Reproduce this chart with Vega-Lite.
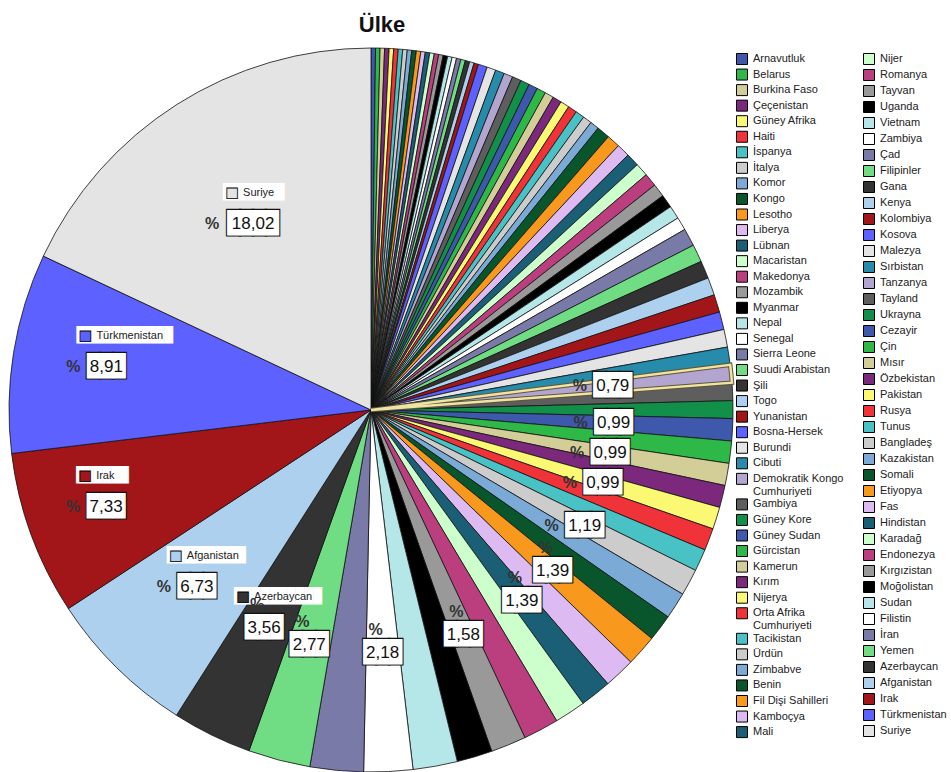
{
  "$schema": "https://vega.github.io/schema/vega-lite/v6.json",
  "width": 724,
  "height": 724,
  "autosize": {"type": "none"},
  "padding": {"left": 9, "top": 48, "right": 218, "bottom": 0},
  "background": "white",
  "title": {"text": "Ülke", "anchor": "middle", "dx": 11, "dy": 24, "offset": 16, "baseline": "alphabetic", "font": "Liberation Sans", "fontSize": 22, "fontWeight": "bold", "color": "#111"},
  "data": {"values": [
    {"ulke": "Arnavutluk", "yuzde": 0.2}, {"ulke": "Belarus", "yuzde": 0.2}, {"ulke": "Burkina Faso", "yuzde": 0.2}, {"ulke": "Çeçenistan", "yuzde": 0.2},
    {"ulke": "Güney Afrika", "yuzde": 0.2}, {"ulke": "Haiti", "yuzde": 0.2}, {"ulke": "İspanya", "yuzde": 0.2}, {"ulke": "İtalya", "yuzde": 0.2},
    {"ulke": "Komor", "yuzde": 0.2}, {"ulke": "Kongo", "yuzde": 0.2}, {"ulke": "Lesotho", "yuzde": 0.2}, {"ulke": "Liberya", "yuzde": 0.2},
    {"ulke": "Lübnan", "yuzde": 0.2}, {"ulke": "Macaristan", "yuzde": 0.2}, {"ulke": "Makedonya", "yuzde": 0.2}, {"ulke": "Mozambik", "yuzde": 0.2},
    {"ulke": "Myanmar", "yuzde": 0.2}, {"ulke": "Nepal", "yuzde": 0.2}, {"ulke": "Senegal", "yuzde": 0.2}, {"ulke": "Sierra Leone", "yuzde": 0.2},
    {"ulke": "Suudi Arabistan", "yuzde": 0.2}, {"ulke": "Şili", "yuzde": 0.2}, {"ulke": "Togo", "yuzde": 0.2}, {"ulke": "Yunanistan", "yuzde": 0.2},
    {"ulke": "Bosna-Hersek", "yuzde": 0.4}, {"ulke": "Burundi", "yuzde": 0.4}, {"ulke": "Cibuti", "yuzde": 0.4}, {"ulke": "Demokratik Kongo Cumhuriyeti", "yuzde": 0.4},
    {"ulke": "Gambiya", "yuzde": 0.4}, {"ulke": "Güney Kore", "yuzde": 0.4}, {"ulke": "Güney Sudan", "yuzde": 0.4}, {"ulke": "Gürcistan", "yuzde": 0.4},
    {"ulke": "Kamerun", "yuzde": 0.4}, {"ulke": "Kırım", "yuzde": 0.4}, {"ulke": "Nijerya", "yuzde": 0.4}, {"ulke": "Orta Afrika Cumhuriyeti", "yuzde": 0.4},
    {"ulke": "Tacikistan", "yuzde": 0.4}, {"ulke": "Ürdün", "yuzde": 0.4}, {"ulke": "Zimbabve", "yuzde": 0.4},
    {"ulke": "Benin", "yuzde": 0.59}, {"ulke": "Fil Dişi Sahilleri", "yuzde": 0.59}, {"ulke": "Kamboçya", "yuzde": 0.59}, {"ulke": "Mali", "yuzde": 0.59},
    {"ulke": "Nijer", "yuzde": 0.59}, {"ulke": "Romanya", "yuzde": 0.59}, {"ulke": "Tayvan", "yuzde": 0.59}, {"ulke": "Uganda", "yuzde": 0.59},
    {"ulke": "Vietnam", "yuzde": 0.59}, {"ulke": "Zambiya", "yuzde": 0.59},
    {"ulke": "Çad", "yuzde": 0.79}, {"ulke": "Filipinler", "yuzde": 0.79}, {"ulke": "Gana", "yuzde": 0.79}, {"ulke": "Kenya", "yuzde": 0.79},
    {"ulke": "Kolombiya", "yuzde": 0.79}, {"ulke": "Kosova", "yuzde": 0.79}, {"ulke": "Malezya", "yuzde": 0.79}, {"ulke": "Sırbistan", "yuzde": 0.79},
    {"ulke": "Tanzanya", "yuzde": 0.79}, {"ulke": "Tayland", "yuzde": 0.79}, {"ulke": "Ukrayna", "yuzde": 0.79},
    {"ulke": "Cezayir", "yuzde": 0.99}, {"ulke": "Çin", "yuzde": 0.99}, {"ulke": "Mısır", "yuzde": 0.99}, {"ulke": "Özbekistan", "yuzde": 0.99},
    {"ulke": "Pakistan", "yuzde": 0.99}, {"ulke": "Rusya", "yuzde": 0.99}, {"ulke": "Tunus", "yuzde": 0.99},
    {"ulke": "Bangladeş", "yuzde": 1.19}, {"ulke": "Kazakistan", "yuzde": 1.19}, {"ulke": "Somali", "yuzde": 1.19},
    {"ulke": "Etiyopya", "yuzde": 1.39}, {"ulke": "Fas", "yuzde": 1.39}, {"ulke": "Hindistan", "yuzde": 1.39}, {"ulke": "Karadağ", "yuzde": 1.39},
    {"ulke": "Endonezya", "yuzde": 1.58}, {"ulke": "Kırgızistan", "yuzde": 1.58}, {"ulke": "Moğolistan", "yuzde": 1.58},
    {"ulke": "Sudan", "yuzde": 1.98}, {"ulke": "Filistin", "yuzde": 2.18}, {"ulke": "İran", "yuzde": 2.38}, {"ulke": "Yemen", "yuzde": 2.77},
    {"ulke": "Azerbaycan", "yuzde": 3.56}, {"ulke": "Afganistan", "yuzde": 6.73}, {"ulke": "Irak", "yuzde": 7.33},
    {"ulke": "Türkmenistan", "yuzde": 8.91}, {"ulke": "Suriye", "yuzde": 18.02}
  ]},
  "transform": [
    {"window": [{"op": "row_number", "as": "rn"}]},
    {"stack": "yuzde", "groupby": [], "sort": [{"field": "rn", "order": "ascending"}], "as": ["t0", "t1"]}
  ],
  "layer": [
    {
      "transform": [{"filter": "datum.rn <= 43"}],
      "mark": {"type": "arc", "stroke": "#111", "strokeWidth": 0.8},
      "encoding": {
        "theta": {"field": "t0", "type": "quantitative", "stack": null},
        "theta2": {"field": "t1"},
        "color": {
          "field": "ulke", "type": "nominal",
          "scale": {
            "domain": ["Arnavutluk","Belarus","Burkina Faso","Çeçenistan","Güney Afrika","Haiti","İspanya","İtalya","Komor","Kongo","Lesotho","Liberya","Lübnan","Macaristan","Makedonya","Mozambik","Myanmar","Nepal","Senegal","Sierra Leone","Suudi Arabistan","Şili","Togo","Yunanistan","Bosna-Hersek","Burundi","Cibuti","Demokratik Kongo Cumhuriyeti","Gambiya","Güney Kore","Güney Sudan","Gürcistan","Kamerun","Kırım","Nijerya","Orta Afrika Cumhuriyeti","Tacikistan","Ürdün","Zimbabve","Benin","Fil Dişi Sahilleri","Kamboçya","Mali"],
            "range": ["#3E58AC","#2EB848","#D3CE97","#7C287D","#FBF873","#EF3338","#48C2C5","#CCCCCC","#7AAAD5","#0A562C","#F8981D","#DDBAF1","#1A5F76","#CCFFCC","#BB3F7F","#999999","#000000","#B6E7E8","#FFFFFF","#797AA7","#70DC84","#333333","#ACD0EE","#A21619","#5D61FF","#E4E4E4","#278BAC","#B2A5CF","#5E5E5E","#12904A","#3E58AC","#2EB848","#D3CE97","#7C287D","#FBF873","#EF3338","#48C2C5","#CCCCCC","#7AAAD5","#0A562C","#F8981D","#DDBAF1","#1A5F76"]
          },
          "legend": {
            "orient": "none", "legendX": 727, "legendY": 5, "title": null, "padding": 0,
            "symbolType": "square", "symbolSize": 121, "symbolStrokeColor": "#000", "symbolStrokeWidth": 1,
            "labelFont": "Liberation Sans", "labelFontSize": 11, "labelColor": "#222", "labelOffset": 5,
            "labelLineHeight": 10, "rowPadding": -0.45, "symbolLimit": 200, "labelLimit": 200,
            "labelExpr": "datum.label == 'Demokratik Kongo Cumhuriyeti' ? ['Demokratik Kongo', 'Cumhuriyeti'] : datum.label == 'Orta Afrika Cumhuriyeti' ? ['Orta Afrika', 'Cumhuriyeti'] : datum.label"
          }
        }
      }
    },
    {
      "transform": [{"filter": "datum.rn > 43"}],
      "mark": {"type": "arc", "stroke": "#111", "strokeWidth": 0.8},
      "encoding": {
        "theta": {"field": "t0", "type": "quantitative", "stack": null},
        "theta2": {"field": "t1"},
        "color": {
          "field": "ulke", "type": "nominal",
          "scale": {
            "domain": ["Nijer","Romanya","Tayvan","Uganda","Vietnam","Zambiya","Çad","Filipinler","Gana","Kenya","Kolombiya","Kosova","Malezya","Sırbistan","Tanzanya","Tayland","Ukrayna","Cezayir","Çin","Mısır","Özbekistan","Pakistan","Rusya","Tunus","Bangladeş","Kazakistan","Somali","Etiyopya","Fas","Hindistan","Karadağ","Endonezya","Kırgızistan","Moğolistan","Sudan","Filistin","İran","Yemen","Azerbaycan","Afganistan","Irak","Türkmenistan","Suriye"],
            "range": ["#CCFFCC","#BB3F7F","#999999","#000000","#B6E7E8","#FFFFFF","#797AA7","#70DC84","#333333","#ACD0EE","#A21619","#5D61FF","#E4E4E4","#278BAC","#B2A5CF","#5E5E5E","#12904A","#3E58AC","#2EB848","#D3CE97","#7C287D","#FBF873","#EF3338","#48C2C5","#CCCCCC","#7AAAD5","#0A562C","#F8981D","#DDBAF1","#1A5F76","#CCFFCC","#BB3F7F","#999999","#000000","#B6E7E8","#FFFFFF","#797AA7","#70DC84","#333333","#ACD0EE","#A21619","#5D61FF","#E4E4E4"]
          },
          "legend": {
            "orient": "none", "legendX": 854, "legendY": 5, "title": null, "padding": 0,
            "symbolType": "square", "symbolSize": 121, "symbolStrokeColor": "#000", "symbolStrokeWidth": 1,
            "labelFont": "Liberation Sans", "labelFontSize": 11, "labelColor": "#222", "labelOffset": 5,
            "labelLineHeight": 10, "rowPadding": 0, "symbolLimit": 200, "labelLimit": 200
          }
        }
      }
    },
    {
      "transform": [{"filter": "datum.ulke == 'Tanzanya'"}],
      "mark": {"type": "arc", "filled": false, "stroke": "#5e5638", "strokeWidth": 4.5},
      "encoding": {"theta": {"field": "t0", "type": "quantitative", "stack": null}, "theta2": {"field": "t1"}}
    },
    {
      "transform": [{"filter": "datum.ulke == 'Tanzanya'"}],
      "mark": {"type": "arc", "filled": false, "stroke": "#efe4a6", "strokeWidth": 2.5},
      "encoding": {"theta": {"field": "t0", "type": "quantitative", "stack": null}, "theta2": {"field": "t1"}}
    },
    {
      "mark": {"type": "text", "font": "DejaVu Sans Mono", "fontSize": 14.6, "align": "left", "baseline": "middle", "fill": "white",
               "radius": {"expr": "datum.ulke=='Suriye'?220:datum.ulke=='Türkmenistan'?268:datum.ulke=='Irak'?282:datum.ulke=='Afganistan'?248:243"},
               "dx": -30, "dy": -31},
      "encoding": {
        "theta": {"field": "yuzde", "type": "quantitative", "stack": true},
        "order": {"field": "rn", "type": "quantitative"},
        "text": {"condition": [
          {"test": "datum.ulke=='Suriye'", "value": "███████"},
          {"test": "datum.ulke=='Türkmenistan'", "value": "███████████"},
          {"test": "datum.ulke=='Irak'", "value": "██████"},
          {"test": "datum.ulke=='Afganistan'", "value": "█████████"},
          {"test": "datum.ulke=='Azerbaycan'", "value": "██████████"}
        ], "value": ""}
      }
    },
    {
      "mark": {"type": "text", "font": "DejaVu Sans", "fontSize": 14, "align": "center", "baseline": "middle", "stroke": "#000", "strokeWidth": 0.8,
               "radius": {"expr": "datum.ulke=='Suriye'?220:datum.ulke=='Türkmenistan'?268:datum.ulke=='Irak'?282:datum.ulke=='Afganistan'?248:243"},
               "dx": -21, "dy": -31},
      "encoding": {
        "theta": {"field": "yuzde", "type": "quantitative", "stack": true},
        "order": {"field": "rn", "type": "quantitative"},
        "color": {"field": "ulke", "type": "nominal", "legend": null,
                  "scale": {"domain": ["Suriye","Türkmenistan","Irak","Afganistan","Azerbaycan"], "range": ["#E4E4E4","#5D61FF","#A21619","#ACD0EE","#333333"]}},
        "text": {"condition": {"test": "indexof(['Suriye','Türkmenistan','Irak','Afganistan','Azerbaycan'], datum.ulke) >= 0", "value": "■"}, "value": ""}
      }
    },
    {
      "mark": {"type": "text", "font": "Liberation Sans", "fontSize": 11, "align": "left", "baseline": "middle", "color": "#222",
               "radius": {"expr": "datum.ulke=='Suriye'?220:datum.ulke=='Türkmenistan'?268:datum.ulke=='Irak'?282:datum.ulke=='Afganistan'?248:243"},
               "dx": -10, "dy": -31},
      "encoding": {
        "theta": {"field": "yuzde", "type": "quantitative", "stack": true},
        "order": {"field": "rn", "type": "quantitative"},
        "text": {"condition": {"test": "indexof(['Suriye','Türkmenistan','Irak','Afganistan','Azerbaycan'], datum.ulke) >= 0", "field": "ulke", "type": "nominal"}, "value": ""}
      }
    },
    {
      "mark": {"type": "text", "font": "DejaVu Sans Mono", "fontSize": 21.5, "align": "center", "baseline": "middle", "fill": "white", "stroke": "#111", "strokeWidth": 2.2,
               "radius": {"expr": "datum.ulke=='Suriye'?220:datum.ulke=='Türkmenistan'?268:datum.ulke=='Irak'?282:datum.ulke=='Afganistan'?248:243"}},
      "encoding": {
        "theta": {"field": "yuzde", "type": "quantitative", "stack": true},
        "order": {"field": "rn", "type": "quantitative"},
        "text": {"condition": [
          {"test": "datum.ulke=='Suriye'", "value": "████"},
          {"test": "indexof(['Türkmenistan','Irak','Afganistan','Azerbaycan','Yemen','Filistin','Kırgızistan','Hindistan','Etiyopya','Bangladeş','Pakistan','Mısır','Cezayir','Tanzanya'], datum.ulke) >= 0", "value": "███"}
        ], "value": ""}
      }
    },
    {
      "mark": {"type": "text", "font": "DejaVu Sans Mono", "fontSize": 21.5, "align": "center", "baseline": "middle", "fill": "white",
               "radius": {"expr": "datum.ulke=='Suriye'?220:datum.ulke=='Türkmenistan'?268:datum.ulke=='Irak'?282:datum.ulke=='Afganistan'?248:243"}},
      "encoding": {
        "theta": {"field": "yuzde", "type": "quantitative", "stack": true},
        "order": {"field": "rn", "type": "quantitative"},
        "text": {"condition": [
          {"test": "datum.ulke=='Suriye'", "value": "████"},
          {"test": "indexof(['Türkmenistan','Irak','Afganistan','Azerbaycan','Yemen','Filistin','Kırgızistan','Hindistan','Etiyopya','Bangladeş','Pakistan','Mısır','Cezayir','Tanzanya'], datum.ulke) >= 0", "value": "███"}
        ], "value": ""}
      }
    },
    {
      "mark": {"type": "text", "font": "Liberation Sans", "fontSize": 17, "align": "center", "baseline": "middle", "color": "#111",
               "radius": {"expr": "datum.ulke=='Suriye'?220:datum.ulke=='Türkmenistan'?268:datum.ulke=='Irak'?282:datum.ulke=='Afganistan'?248:243"}},
      "encoding": {
        "theta": {"field": "yuzde", "type": "quantitative", "stack": true},
        "order": {"field": "rn", "type": "quantitative"},
        "text": {"condition": {"test": "indexof(['Suriye','Türkmenistan','Irak','Afganistan','Azerbaycan','Yemen','Filistin','Kırgızistan','Hindistan','Etiyopya','Bangladeş','Pakistan','Mısır','Cezayir','Tanzanya'], datum.ulke) >= 0", "field": "yuzde", "type": "quantitative", "format": ".2f"}, "value": ""}
      }
    },
    {
      "mark": {"type": "text", "font": "Liberation Sans", "fontSize": 16, "fontWeight": "bold", "align": "center", "baseline": "middle", "color": "#333",
               "radius": {"expr": "datum.ulke=='Suriye'?220:datum.ulke=='Türkmenistan'?268:datum.ulke=='Irak'?282:datum.ulke=='Afganistan'?248:243"},
               "dx": {"expr": "indexof(['Azerbaycan','Yemen','Filistin','Kırgızistan','Hindistan','Etiyopya'], datum.ulke) >= 0 ? -7 : datum.ulke == 'Suriye' ? -41 : -33"},
               "dy": {"expr": "indexof(['Azerbaycan','Yemen','Filistin','Kırgızistan','Hindistan','Etiyopya'], datum.ulke) >= 0 ? -23 : 0"}},
      "encoding": {
        "theta": {"field": "yuzde", "type": "quantitative", "stack": true},
        "order": {"field": "rn", "type": "quantitative"},
        "text": {"condition": {"test": "indexof(['Suriye','Türkmenistan','Irak','Afganistan','Azerbaycan','Yemen','Filistin','Kırgızistan','Hindistan','Etiyopya','Bangladeş','Pakistan','Mısır','Cezayir','Tanzanya'], datum.ulke) >= 0", "value": "%"}, "value": ""}
      }
    }
  ],
  "resolve": {"scale": {"color": "independent"}},
  "config": {
    "view": {"stroke": null},
    "locale": {"number": {"decimal": ",", "thousands": ".", "grouping": [3], "currency": ["", ""]}}
  }
}
